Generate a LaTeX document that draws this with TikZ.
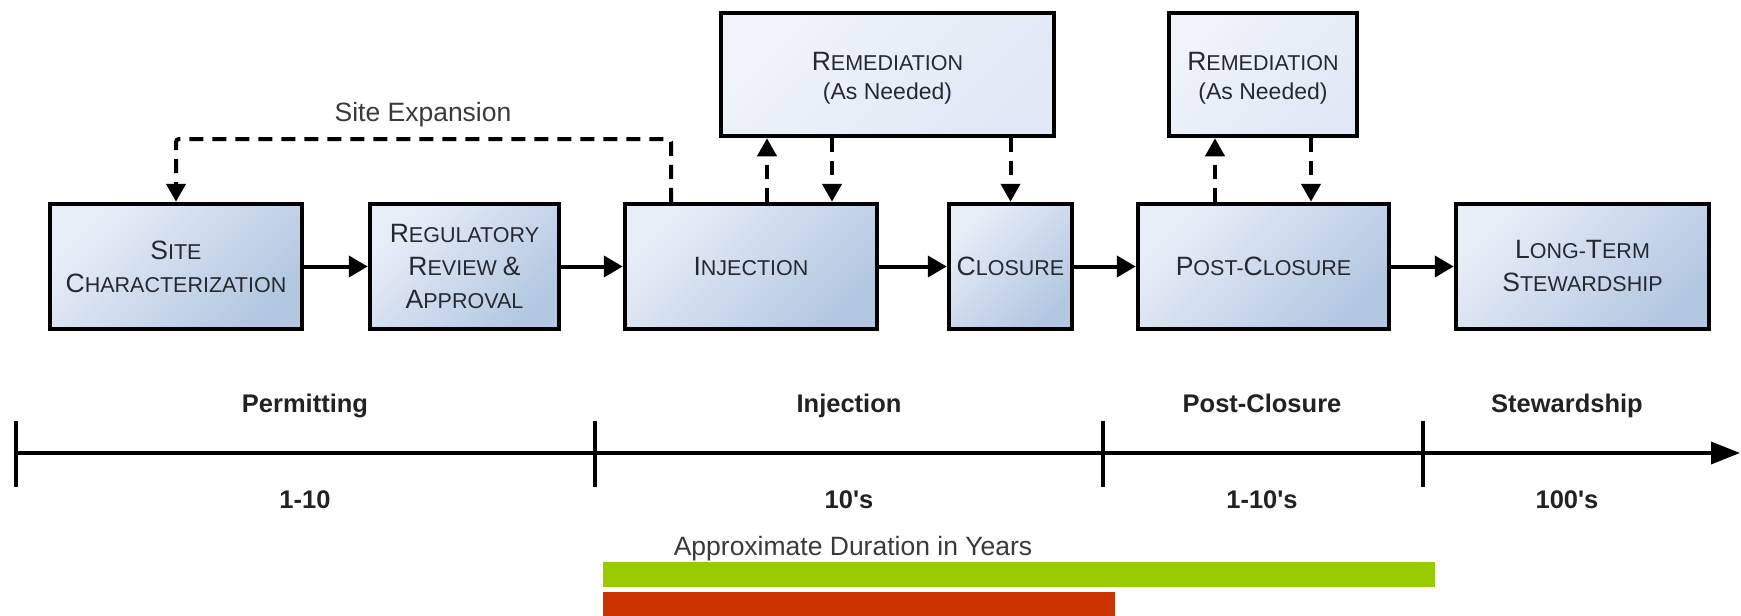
\documentclass[tikz,border=0pt]{standalone}
\usepackage{fontspec}
\setmainfont{Liberation Sans}
\usetikzlibrary{arrows.meta}

\definecolor{boxlight}{HTML}{E8EEF7}
\definecolor{boxdark}{HTML}{B3C7E1}
\definecolor{remlight}{HTML}{F0F4FA}
\definecolor{remdark}{HTML}{DFE8F4}
\definecolor{boxtext}{HTML}{262930}
\definecolor{labeltext}{HTML}{3A3A3A}
\definecolor{axistext}{HTML}{222222}
\definecolor{barGreen}{HTML}{99CC00}
\definecolor{barRed}{HTML}{CC3300}

% first letter of a small-caps word
\newcommand\capA[1]{{\fontsize{26.5pt}{33pt}\selectfont #1}}
% remediation caption, set a little low in its box
\newcommand\remtext{\rule{0pt}{25pt}\capA{R}EMEDIATION\\[-4pt]{\fontsize{23pt}{26pt}\selectfont (As Needed)}}

\tikzset{
  x=1pt, y=-1pt,
  stage/.style={draw=black, line width=4.5pt, inner sep=0pt, align=center,
    minimum height=125pt, text=boxtext,
    font=\fontsize{21.5pt}{33pt}\selectfont,
    top color=boxlight, bottom color=boxdark, shading angle=45},
  remedy/.style={stage, minimum height=123pt,
    top color=remlight, bottom color=remdark, shading angle=45},
  flow/.style={line width=4pt, -{Triangle[length=19pt,width=21pt]}},
  feedback/.style={line width=4pt, dash pattern=on 14pt off 9pt,
    -{Triangle[length=18pt,width=19pt]}},
  phase/.style={font=\bfseries\fontsize{25.5pt}{30pt}\selectfont,
    text=axistext, anchor=base, inner sep=0pt},
  note/.style={font=\fontsize{26.5pt}{30pt}\selectfont, text=labeltext,
    anchor=base, inner sep=0pt},
  tick/.style={line width=3.5pt},
}

\begin{document}
\begin{tikzpicture}
\useasboundingbox (0,0) rectangle (1741,616);

% process stages
\node[stage, minimum width=252pt] (sc)   at (176,266.5)
  {\capA{S}ITE\\\capA{C}HARACTERIZATION};
\node[stage, minimum width=189pt] (rr)   at (464.5,266.5)
  {\capA{R}EGULATORY\\\capA{R}EVIEW \capA{\&}\\\capA{A}PPROVAL};
\node[stage, minimum width=252pt] (inj)  at (751,266.5)
  {\capA{I}NJECTION};
\node[stage, minimum width=123pt] (clo)  at (1010.5,266.5)
  {\capA{C}LOSURE};
\node[stage, minimum width=251pt] (pc)   at (1263.5,266.5)
  {\capA{P}OST-\capA{C}LOSURE};
\node[stage, minimum width=253pt] (lts)  at (1582.5,266.5)
  {\capA{L}ONG-\capA{T}ERM\\\capA{S}TEWARDSHIP};

% remediation boxes
\node[remedy, minimum width=333pt] (rem1) at (887.5,74.5) {\remtext};
\node[remedy, minimum width=188pt] (rem2) at (1263,74.5)  {\remtext};

% main flow
\draw[flow] (sc)  -- (rr);
\draw[flow] (rr)  -- (inj);
\draw[flow] (inj) -- (clo);
\draw[flow] (clo) -- (pc);
\draw[flow] (pc)  -- (lts);

% site expansion loop
\coordinate (se1) at (671,139);
\coordinate (se2) at (176,139);
\draw[feedback, rounded corners=3pt] (inj.north -| se1) -- (se1) -- (se2) -- (sc.north);
\node[note] (selabel) at (423,121) {Site Expansion};

% remediation feedback
\coordinate (r1up)   at (767,0);
\coordinate (r1down) at (832,0);
\coordinate (r2up)   at (1215,0);
\coordinate (r2down) at (1311,0);
\draw[feedback] (inj.north -| r1up) -- (rem1.south -| r1up);
\draw[feedback] (rem1.south -| r1down) -- (inj.north -| r1down);
\draw[feedback] (rem1.south -| clo.north) -- (clo.north);
\draw[feedback] (pc.north -| r2up) -- (rem2.south -| r2up);
\draw[feedback] (rem2.south -| r2down) -- (pc.north -| r2down);

% timeline
\coordinate (t0) at (16,453);
\coordinate (tend) at (1740,453);
\draw[line width=3.5pt, -{Triangle[length=29pt,width=22pt]}] (t0) -- (tend);
\foreach \x/\n in {16/a,595/b,1103/c,1423/d} {
  \coordinate (tk\n top) at (\x,421);
  \coordinate (tk\n bot) at (\x,487);
  \draw[tick] (tk\n top) -- (tk\n bot);
}

\node[phase] (p1) at (305,412)  {Permitting};
\node[phase] (p2) at (849,412)  {Injection};
\node[phase] (p3) at (1262,412) {Post-Closure};
\node[phase] (p4) at (1567,412) {Stewardship};

\node[phase] (d1) at (305,508)  {1-10};
\node[phase] (d2) at (849,508)  {10\textquotesingle s};
\node[phase] (d3) at (1262,508) {1-10\textquotesingle s};
\node[phase] (d4) at (1567,508) {100\textquotesingle s};

% duration bars
\node[note] (dur) at (853,555) {Approximate Duration in Years};
\fill[barGreen] (603,562) rectangle (1435,587);
\fill[barRed]   (603,592) rectangle (1115,617);
\end{tikzpicture}
\end{document}
